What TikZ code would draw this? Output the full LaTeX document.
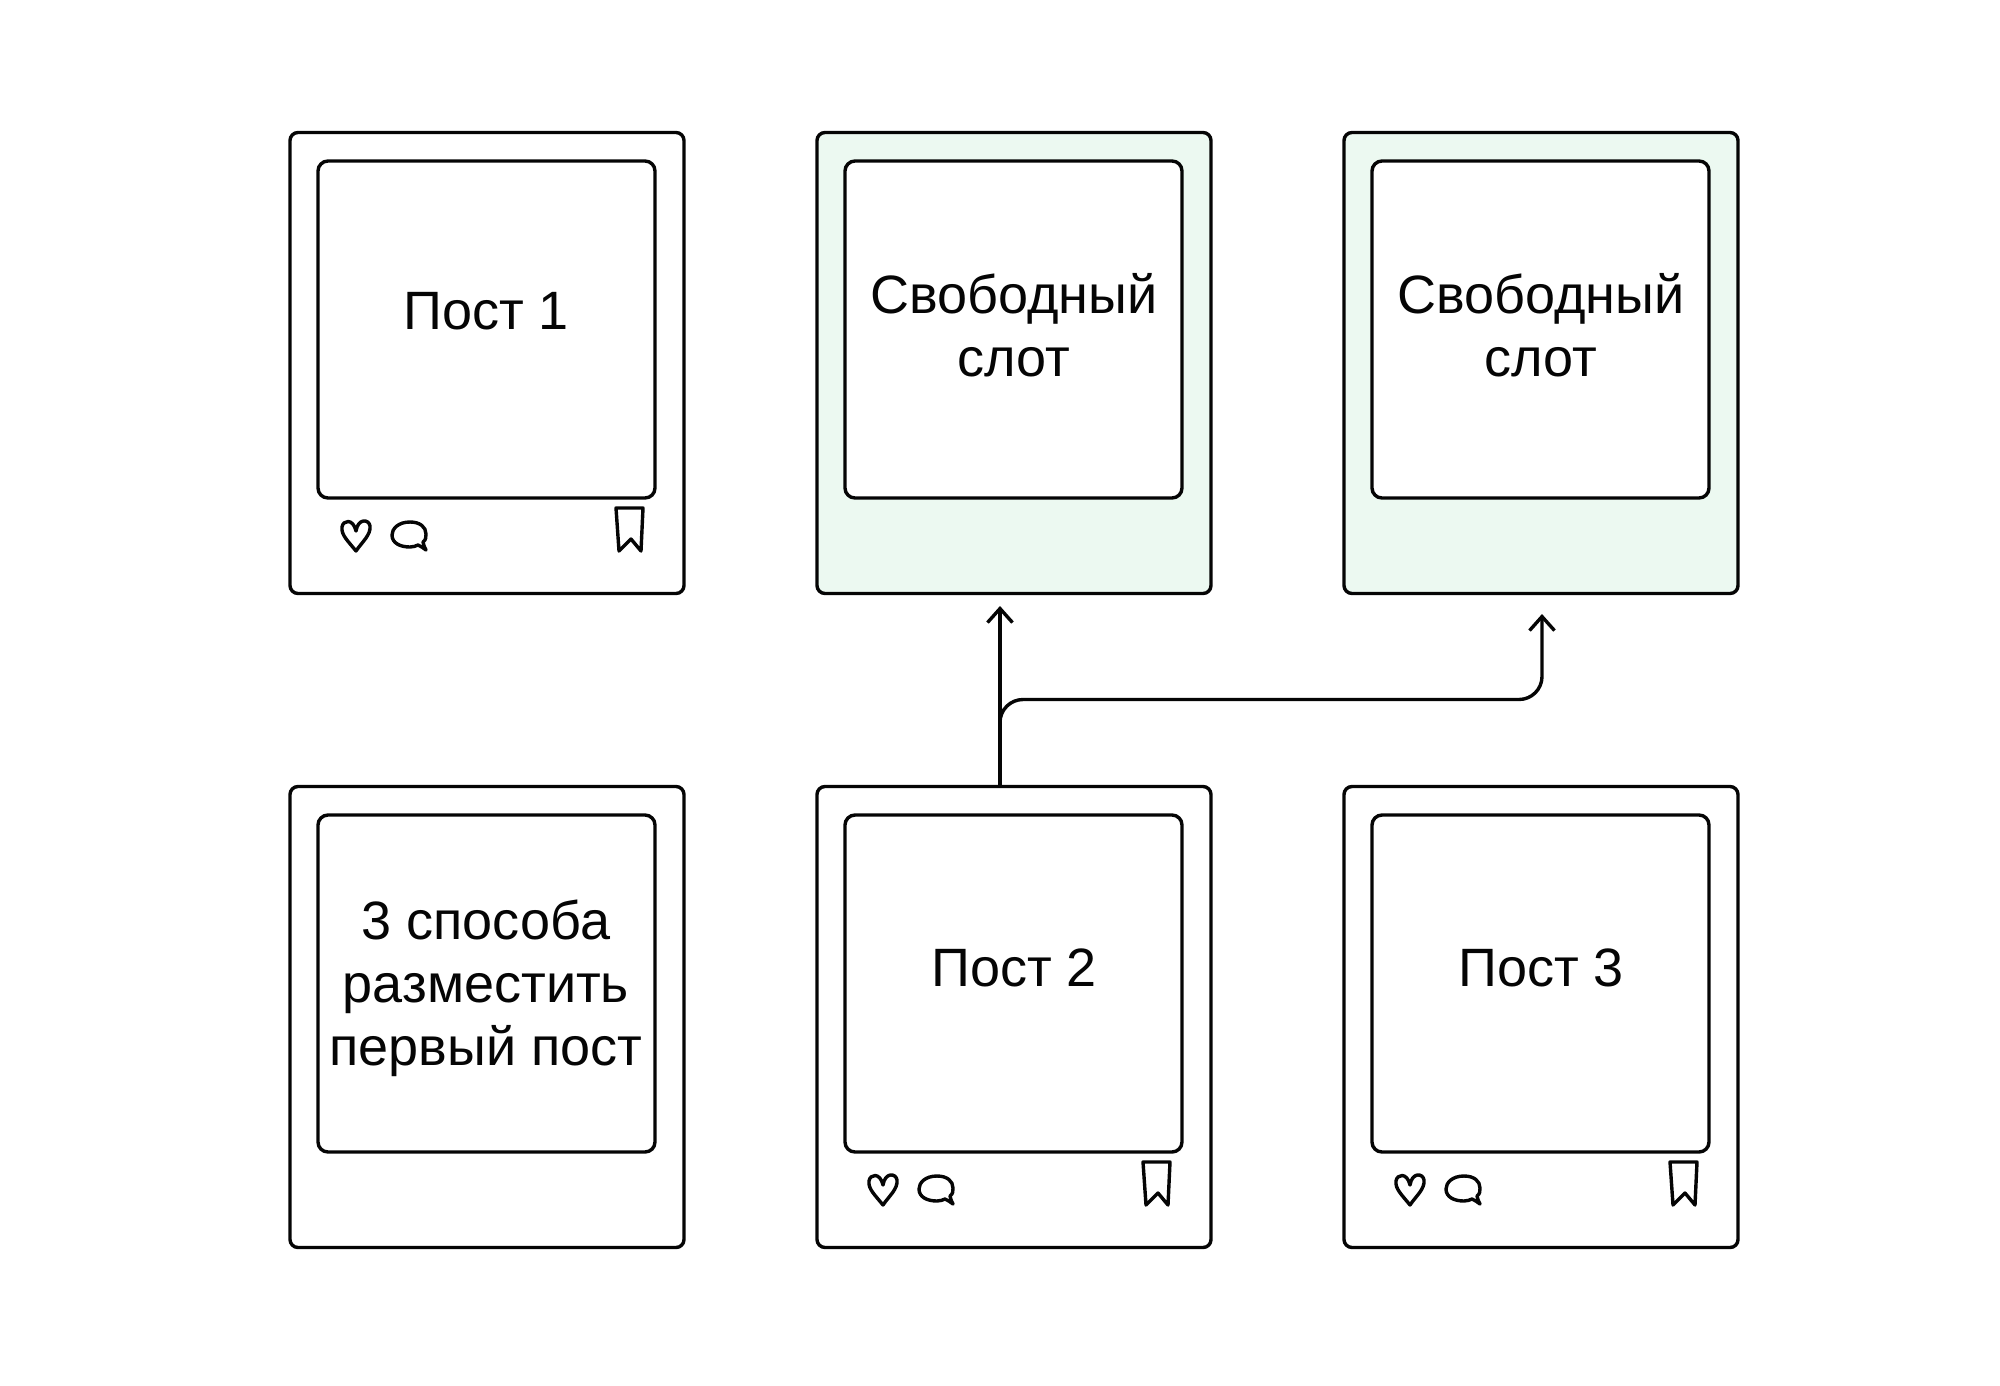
\documentclass[tikz,border=0pt]{standalone}
\usepackage{fontspec}
\setmainfont{Liberation Sans}
\usetikzlibrary{arrows.meta}
\definecolor{ink}{HTML}{050505}
\definecolor{mint}{HTML}{ECF9F1}
\tikzset{
  x=1pt,y=-1pt,
  frame/.style={draw=ink,line width=3.4pt,rounded corners=8pt,minimum width=394pt,minimum height=461pt,inner sep=0pt,outer sep=0pt,fill=white},
  freeframe/.style={frame,fill=mint},
  photo/.style={draw=ink,line width=3.4pt,rounded corners=10pt,minimum width=337pt,minimum height=337pt,inner sep=0pt,outer sep=0pt,fill=white},
  label/.style={font=\fontsize{54}{63}\selectfont,text=ink,align=center,inner sep=0pt},
  link/.style={draw=ink,line width=3.4pt,-{Straight Barb[length=14pt,width=25pt,line width=3.4pt]}},
  icon/.style={draw=ink,line width=3.4pt,line join=round,line cap=round},
  actions/.pic={
    % origin: top-left corner of the frame
    \path[icon] (66,418) .. controls (58,408) and (51,402) .. (52,394) .. controls (53,387) and (63,385) .. (66,398) .. controls (68,385) and (79,386) .. (80,393) .. controls (81,402) and (72,409) .. (66,418) -- cycle;
    \path[icon] (120,389) .. controls (108,389) and (102,396) .. (102,402) .. controls (102,410) and (110,414) .. (120,414) .. controls (123,414) and (126,413) .. (128,412) .. controls (131,413) and (133,415) .. (136,417) .. controls (135,414) and (133,412) .. (133,409) .. controls (136,407) and (136,404) .. (136,401) .. controls (136,394) and (130,389) .. (120,389) -- cycle;
    \path[icon] (326,375) -- (353,375) -- (351,418) -- (341,406) -- (329,418) -- cycle;
  }
}
\begin{document}
\begin{tikzpicture}
\useasboundingbox (0,0) rectangle (2000,1385);
% frames
\node[frame,anchor=north west] (f1) at (290,132.5) {};
\node[freeframe,anchor=north west] (f2) at (817,132.5) {};
\node[freeframe,anchor=north west] (f3) at (1344,132.5) {};
\node[frame,anchor=north west] (f4) at (290,786.5) {};
\node[frame,anchor=north west] (f5) at (817,786.5) {};
\node[frame,anchor=north west] (f6) at (1344,786.5) {};
% photos
\node[photo,anchor=north west] (p1) at (318,161) {};
\node[photo,anchor=north west] (p2) at (845,161) {};
\node[photo,anchor=north west] (p3) at (1372,161) {};
\node[photo,anchor=north west] (p4) at (318,815) {};
\node[photo,anchor=north west] (p5) at (845,815) {};
\node[photo,anchor=north west] (p6) at (1372,815) {};
% labels
\node[label] (t1) at (486,311) {Пост 1};
\node[label] (t2) at (1014,325.5) {Свободный\\слот};
\node[label] (t3) at (1541,325.5) {Свободный\\слот};
\node[label] (t4) at (486,988.5) {3 способа\\разместить\\первый пост};
\node[label] (t5) at (1014,968) {Пост 2};
\node[label] (t6) at (1541,968) {Пост 3};
% icons
\pic at (290,133) {actions};
\pic at (817,787) {actions};
\pic at (1344,787) {actions};
% connectors
\coordinate (a1) at (1000,787);
\coordinate (e1) at (1000,606);
\coordinate (e2) at (1542,614);
\draw[link] (a1) -- (e1);
\draw[link,rounded corners=23pt] (a1) -- (1000,699.5) -- (1542,699.5) -- (e2);
\end{tikzpicture}
\end{document}
